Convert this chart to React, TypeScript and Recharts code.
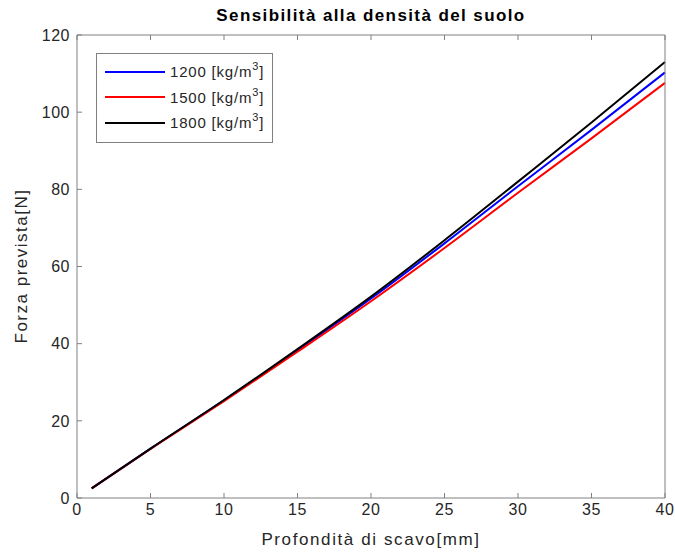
import React from 'react';
import { LineChart, Line, XAxis, YAxis } from 'recharts';

// Depth [mm] and predicted force [N] for each soil density
const depth = [1, 5, 10, 15, 20, 25, 30, 35, 40];
const force1200 = [2.5, 12.8, 25.3, 38.3, 51.7, 66.0, 80.8, 95.4, 110.3];
const force1500 = [2.5, 12.7, 25.1, 37.9, 51.0, 64.8, 79.1, 93.2, 107.6];
const force1800 = [2.5, 12.8, 25.4, 38.6, 52.2, 66.8, 82.0, 97.3, 113.0];

const xTicks = [0, 5, 10, 15, 20, 25, 30, 35, 40];
const yTicks = [0, 20, 40, 60, 80, 100, 120];

const seriesInfo = [
  { key: 'd1200', label: '1200', color: '#0000ff' },
  { key: 'd1500', label: '1500', color: '#ff0000' },
  { key: 'd1800', label: '1800', color: '#000000' },
];

const data = depth.map((d, i) => ({
  depth: d,
  d1200: force1200[i],
  d1500: force1500[i],
  d1800: force1800[i],
}));

const FONT = '"Liberation Sans", Arial, Helvetica, sans-serif';
const AXIS = '#808080';
const TEXT = '#262626';
const tickStyle = { fill: TEXT, fontSize: 16, fontFamily: FONT, letterSpacing: 0.5 };

// MATLAB style legend box with superscript units
const LegendBox = () => (
  <div
    style={{
      position: 'absolute',
      left: 96,
      top: 53,
      width: 175,
      height: 83,
      border: `1px solid ${AXIS}`,
      background: '#fff',
      boxSizing: 'content-box',
      fontFamily: FONT,
      fontSize: 15,
      letterSpacing: 0.8,
      color: TEXT,
      paddingTop: 5,
    }}
  >
    {seriesInfo.map((s) => (
      <div key={s.key} style={{ display: 'flex', alignItems: 'center', height: 25.5, paddingLeft: 8 }}>
        <div style={{ width: 60, height: 2, background: s.color, marginRight: 5 }} />
        <span style={{ whiteSpace: 'nowrap' }}>
          {s.label} [kg/m<sup style={{ fontSize: 11, verticalAlign: 7, lineHeight: 0 }}>3</sup>]
        </span>
      </div>
    ))}
  </div>
);

export default function App() {
  return (
    <div style={{ position: 'absolute', left: 0, top: 0, width: 675, height: 556, background: '#fff', fontFamily: FONT }}>
      <div
        style={{
          position: 'absolute',
          top: 6,
          left: 77,
          width: 588,
          textAlign: 'center',
          fontWeight: 'bold',
          fontSize: 17,
          letterSpacing: 1.4,
          color: '#000',
        }}
      >
        Sensibilità alla densità del suolo
      </div>
      <LineChart
        width={675}
        height={556}
        data={data}
        margin={{ top: 34, right: 9, left: 37, bottom: 28 }}
      >
        <XAxis
          xAxisId="bottom"
          dataKey="depth"
          type="number"
          domain={[0, 40]}
          ticks={xTicks}
          interval={0}
          height={30}
          stroke={AXIS}
          tickSize={-5}
          tickMargin={11}
          tick={tickStyle}
        />
        <XAxis
          xAxisId="top"
          orientation="top"
          dataKey="depth"
          type="number"
          domain={[0, 40]}
          ticks={xTicks}
          interval={0}
          height={1}
          stroke={AXIS}
          tickSize={-5}
          tickFormatter={() => ''}
        />
        <YAxis
          yAxisId="left"
          type="number"
          domain={[0, 120]}
          ticks={yTicks}
          interval={0}
          width={40}
          stroke={AXIS}
          tickSize={-5}
          tickMargin={12}
          tick={tickStyle}
        />
        <YAxis
          yAxisId="right"
          orientation="right"
          type="number"
          domain={[0, 120]}
          ticks={yTicks}
          interval={0}
          width={1}
          stroke={AXIS}
          tickSize={-5}
          tickFormatter={() => ''}
        />
        {seriesInfo.map((s) => (
          <Line
            key={s.key}
            xAxisId="bottom"
            yAxisId="left"
            dataKey={s.key}
            type="monotone"
            stroke={s.color}
            strokeWidth={2}
            dot={false}
            isAnimationActive={false}
          />
        ))}
      </LineChart>
      <LegendBox />
      <div
        style={{
          position: 'absolute',
          top: 530,
          left: 77,
          width: 588,
          textAlign: 'center',
          fontSize: 17,
          letterSpacing: 1.6,
          color: TEXT,
        }}
      >
        Profondità di scavo[mm]
      </div>
      <div
        style={{
          position: 'absolute',
          left: 22,
          top: 266,
          transform: 'translate(-50%, -50%) rotate(-90deg)',
          whiteSpace: 'nowrap',
          fontSize: 17,
          letterSpacing: 1.5,
          color: TEXT,
        }}
      >
        Forza prevista[N]
      </div>
    </div>
  );
}
